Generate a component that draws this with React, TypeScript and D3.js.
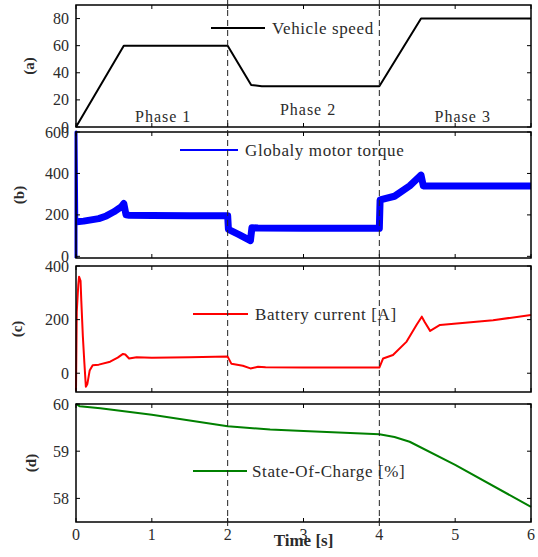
import React from "react";
import * as d3 from "d3";

// time axis
const timeTicks = [0, 1, 2, 3, 4, 5, 6];
const phaseBounds = [2, 4];

// (a) vehicle speed [km/h]
const speedT = [0, 0.63, 2.0, 2.31, 2.45, 4.0, 4.55, 6.0];
const speedV = [0, 60, 60, 31, 30, 30, 80, 80];

// (b) motor torque (band centre) + start-up spike
const torqueT = [0.01, 0.1, 0.3, 0.4, 0.5, 0.6, 0.63, 0.66, 0.7, 1.0, 1.5, 2.0, 2.01, 2.15, 2.3, 2.32, 2.4, 3.0, 4.0, 4.01, 4.2, 4.4, 4.53, 4.55, 4.58, 5.0, 6.0];
const torqueV = [167, 170, 182, 195, 215, 240, 255, 200, 198, 197, 196, 196, 130, 105, 76, 138, 137, 135, 135, 272, 290, 340, 385, 392, 340, 340, 340];
const spikeT = [0, 0, 0.01];
const spikeV = [-8, 600, 170];

// (c) battery current [A]
const currentT = [0, 0.01, 0.03, 0.04, 0.06, 0.07, 0.09, 0.11, 0.13, 0.15, 0.18, 0.22, 0.3, 0.45, 0.55, 0.62, 0.65, 0.7, 0.8, 1.0, 1.5, 2.0, 2.05, 2.2, 2.3, 2.4, 2.5, 3.0, 4.0, 4.05, 4.18, 4.36, 4.49, 4.56, 4.6, 4.67, 4.8, 5.5, 6.0];
const currentV = [-65, 230, 330, 360, 345, 270, 140, 40, -50, -40, 10, 30, 32, 43, 58, 72, 70, 55, 60, 58, 60, 62, 35, 28, 18, 24, 22, 21, 21, 55, 68, 118, 180, 211, 190, 158, 180, 198, 217];

// (d) state of charge [%]
const socT = [0, 0.05, 0.32, 1.0, 2.0, 2.56, 3.0, 4.0, 4.2, 4.4, 5.0, 6.0];
const socV = [60, 59.95, 59.91, 59.77, 59.53, 59.46, 59.43, 59.36, 59.3, 59.2, 58.71, 57.82];

const W = 538;
const H = 557;
const left = 76;
const right = 531;
const font = "'Liberation Serif', 'Times New Roman', serif";
const txt = "#2b2b2b";

const x = d3.scaleLinear().domain([0, 6]).range([left, right]);

const zip = (t: number[], v: number[]) => t.map((d, i) => [d, v[i]] as [number, number]);

type Series = { pts: [number, number][]; color: string; width: number };
type Panel = {
  tag: string;
  tagX: number;
  top: number;
  bottom: number;
  domain: [number, number];
  ticks: number[];
  series: Series[];
  legend: { label: string; color: string; y: number; x0: number; x1: number; tx: number };
  xLabels?: boolean;
};

const panels: Panel[] = [
  {
    tag: "(a)", tagX: 29, top: 5, bottom: 127, domain: [0, 90], ticks: [0, 20, 40, 60, 80],
    series: [{ pts: zip(speedT, speedV), color: "#000", width: 2 }],
    legend: { label: "Vehicle speed", color: "#000", y: 28, x0: 211, x1: 265, tx: 272 },
  },
  {
    tag: "(b)", tagX: 19, top: 132, bottom: 258, domain: [-8, 600], ticks: [0, 200, 400, 600],
    series: [
      { pts: zip(torqueT, torqueV), color: "#0000ff", width: 7 },
      { pts: zip(spikeT, spikeV), color: "#0000ff", width: 3 },
    ],
    legend: { label: "Globaly motor torque", color: "#0000ff", y: 150, x0: 180, x1: 238, tx: 245 },
  },
  {
    tag: "(c)", tagX: 17, top: 266, bottom: 392, domain: [-70, 400], ticks: [0, 200, 400],
    series: [{ pts: zip(currentT, currentV), color: "#ff0000", width: 2 }],
    legend: { label: "Battery current [A]", color: "#ff0000", y: 314, x0: 193, x1: 248, tx: 255 },
  },
  {
    tag: "(d)", tagX: 31, top: 404, bottom: 522, domain: [57.5, 60], ticks: [58, 59, 60],
    series: [{ pts: zip(socT, socV), color: "#008000", width: 2 }],
    legend: { label: "State-Of-Charge [%]", color: "#008000", y: 471, x0: 193, x1: 247, tx: 252 },
    xLabels: true,
  },
];

const phases = [
  { label: "Phase 1", t: 1.15, y: 122 },
  { label: "Phase 2", t: 3.06, y: 115 },
  { label: "Phase 3", t: 5.1, y: 122 },
];

const PanelView = ({ p }: { p: Panel }) => {
  const y = d3.scaleLinear().domain(p.domain).range([p.bottom, p.top]);
  const line = d3.line<[number, number]>().x((d) => x(d[0])).y((d) => y(d[1]));
  const tl = 4;
  return (
    <g>
      {p.series.map((s, i) => (
        <path key={i} d={line(s.pts) || ""} fill="none" stroke={s.color} strokeWidth={s.width} strokeLinejoin="round" />
      ))}
      {/* legend */}
      <line x1={p.legend.x0} x2={p.legend.x1} y1={p.legend.y} y2={p.legend.y} stroke={p.legend.color} strokeWidth={2} />
      <text x={p.legend.tx} y={p.legend.y} dy="0.33em" fontSize={17} letterSpacing={0.6} fill={txt} fontFamily={font}>{p.legend.label}</text>
      {/* y ticks */}
      {p.ticks.map((t) => (
        <g key={t}>
          <line x1={left} x2={left + tl} y1={y(t)} y2={y(t)} stroke="#000" />
          <line x1={right} x2={right - tl} y1={y(t)} y2={y(t)} stroke="#000" />
          <text x={69} y={y(t)} dy="0.35em" textAnchor="end" fontSize={16} fill={txt} fontFamily={font}>{t}</text>
        </g>
      ))}
      {/* x ticks */}
      {timeTicks.map((t) => (
        <g key={t}>
          <line x1={x(t)} x2={x(t)} y1={p.bottom} y2={p.bottom - tl} stroke="#000" />
          <line x1={x(t)} x2={x(t)} y1={p.top} y2={p.top + tl} stroke="#000" />
          {p.xLabels && (
            <text x={x(t)} y={540} textAnchor="middle" fontSize={16} fill={txt} fontFamily={font}>{t}</text>
          )}
        </g>
      ))}
      <rect x={left} y={p.top} width={right - left} height={p.bottom - p.top} fill="none" stroke="#000" strokeWidth={1.5} />
      <text
        transform={`translate(${p.tagX},${(p.top + p.bottom) / 2}) rotate(-90)`}
        textAnchor="middle" dy="0.33em" fontSize={15} fontWeight="bold" fill={txt} fontFamily={font}
      >{p.tag}</text>
    </g>
  );
};

export default function App() {
  return (
    <svg width={W} height={H} style={{ position: "absolute", left: 0, top: 0, background: "#fff" }}>
      {panels.map((p) => <PanelView key={p.tag} p={p} />)}
      {phases.map((ph) => (
        <text key={ph.label} x={x(ph.t)} y={ph.y} textAnchor="middle" fontSize={16} letterSpacing={1} fill={txt} fontFamily={font}>{ph.label}</text>
      ))}
      {phaseBounds.map((b) => (
        <line key={b} x1={x(b)} x2={x(b)} y1={0} y2={528} stroke="#222" strokeDasharray="6,4" />
      ))}
      <text x={x(3)} y={546} textAnchor="middle" fontSize={17} fontWeight="bold" fill={txt} fontFamily={font}>Time [s]</text>
    </svg>
  );
}
